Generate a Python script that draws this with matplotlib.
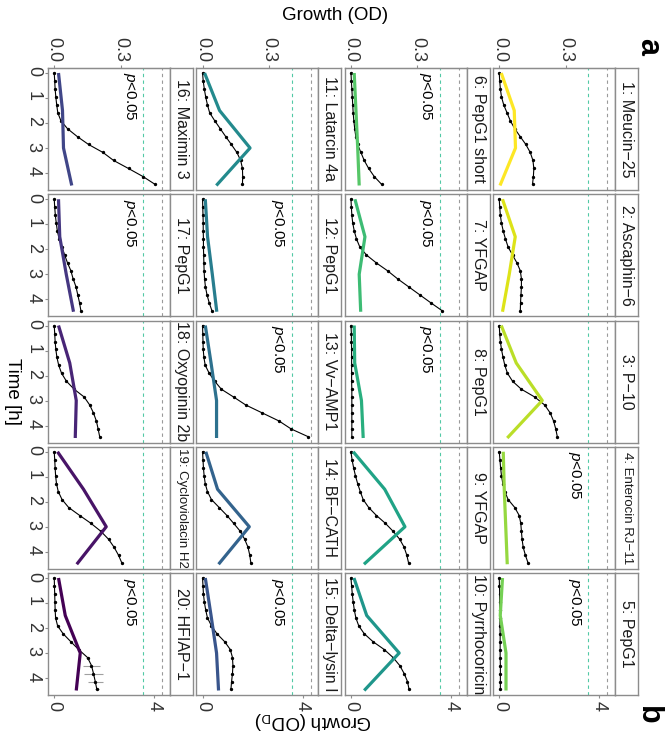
import numpy as np
import matplotlib
matplotlib.use("Agg")
import matplotlib.pyplot as plt

plt.rcParams["font.family"] = ["Liberation Sans", "DejaVu Sans"]
plt.rcParams["mathtext.fontset"] = "custom"
plt.rcParams["mathtext.rm"] = "Liberation Sans"
plt.rcParams["mathtext.it"] = "Liberation Sans:italic"

# --- Data ---

peptides = [
    "1: Meucin\u221225", "2: Ascaphin\u22126", "3: P\u221210", "4: Enterocin RJ\u221211", "5: PepG1",
    "6: PepG1 short", "7: YFGAP", "8: PepG1", "9: YFGAP", "10: Pyrrhocoricin",
    "11: Latarcin 4a", "12: PepG1", "13: Vv\u2212AMP1", "14: BF\u2212CATH", "15: Delta\u2212lysin I",
    "16: Maximin 3", "17: PepG1", "18: Oxyopinin 2b", "19: Cycloviolacin H2", "20: HFIAP\u22121",
]
significant = [4, 5, 6, 7, 8, 12, 13, 15, 16, 17, 20]
small_strip = [4, 19]

# plate reader time points (h) and measured growth (OD)
time_od = [0, 0.32, 0.64, 0.95, 1.27, 1.59, 1.91, 2.23, 2.55, 2.86, 3.18, 3.5, 3.82, 4.14, 4.45]
od_p01 = [0, 0.002, 0.005, 0.01, 0.02, 0.035, 0.05, 0.07, 0.095, 0.12, 0.14, 0.152, 0.156, 0.154, 0.15]
od_p02 = [0, 0.002, 0.005, 0.01, 0.018, 0.028, 0.04, 0.06, 0.08, 0.095, 0.1, 0.1, 0.098, 0.096, 0.095]
od_p03 = [0, 0.002, 0.005, 0.01, 0.017, 0.025, 0.037, 0.06, 0.1, 0.16, 0.205, 0.23, 0.245, 0.255, 0.262]
od_p04 = [0, 0.003, 0.006, 0.01, 0.016, 0.025, 0.04, 0.07, 0.09, 0.097, 0.1, 0.103, 0.108, 0.118, 0.13]
od_p05 = [0, 0.001, 0.002, 0.002, 0.003, 0.003, 0.003, 0.004, 0.004, 0.004, 0.004, 0.005, 0.005, 0.005, 0.005]
od_p06 = [0, 0.002, 0.004, 0.006, 0.008, 0.01, 0.013, 0.017, 0.022, 0.03, 0.045, 0.06, 0.08, 0.105, 0.138]
od_p07 = [0, 0.002, 0.004, 0.008, 0.015, 0.025, 0.04, 0.07, 0.115, 0.165, 0.21, 0.26, 0.31, 0.36, 0.41]
od_p08 = [0, 0.002, 0.002, 0.003, 0.003, 0.003, 0.003, 0.003, 0.004, 0.004, 0.004, 0.004, 0.004, 0.004, 0.004]
od_p09 = [0, 0.005, 0.012, 0.02, 0.03, 0.042, 0.055, 0.08, 0.115, 0.155, 0.19, 0.22, 0.24, 0.252, 0.26]
od_p10 = [0, 0.003, 0.006, 0.01, 0.015, 0.022, 0.035, 0.06, 0.1, 0.15, 0.19, 0.22, 0.24, 0.255, 0.262]
od_p11 = [0, 0.003, 0.008, 0.014, 0.022, 0.032, 0.055, 0.08, 0.105, 0.13, 0.155, 0.172, 0.18, 0.181, 0.18]
od_p12 = [0, 0.001, 0.002, 0.003, 0.003, 0.004, 0.004, 0.005, 0.006, 0.007, 0.009, 0.013, 0.02, 0.03, 0.042]
od_p13 = [0, 0.001, 0.002, 0.003, 0.006, 0.012, 0.03, 0.055, 0.085, 0.14, 0.195, 0.27, 0.345, 0.40, 0.477]
od_p14 = [0, 0.002, 0.004, 0.007, 0.012, 0.022, 0.04, 0.075, 0.11, 0.14, 0.17, 0.19, 0.205, 0.213, 0.218]
od_p15 = [0, 0.002, 0.004, 0.008, 0.014, 0.022, 0.04, 0.065, 0.1, 0.125, 0.135, 0.137, 0.135, 0.131, 0.128]
od_p16 = [0, 0.002, 0.004, 0.007, 0.011, 0.016, 0.03, 0.06, 0.105, 0.155, 0.22, 0.268, 0.335, 0.4, 0.454]
od_p17 = [0, 0.002, 0.005, 0.009, 0.014, 0.022, 0.035, 0.047, 0.06, 0.075, 0.085, 0.098, 0.106, 0.114, 0.12]
od_p18 = [0, 0.002, 0.004, 0.007, 0.012, 0.02, 0.033, 0.055, 0.09, 0.135, 0.16, 0.177, 0.19, 0.198, 0.205]
od_p19 = [0, 0.002, 0.004, 0.006, 0.01, 0.018, 0.035, 0.065, 0.115, 0.165, 0.21, 0.245, 0.27, 0.29, 0.305]
od_p20 = [0, 0.001, 0.002, 0.003, 0.004, 0.006, 0.015, 0.04, 0.075, 0.11, 0.15, 0.168, 0.177, 0.185, 0.192]
err_p20 = [0, 0, 0, 0, 0, 0, 0, 0, 0, 0.004, 0.008, 0.037, 0.045, 0.035, 0.01]

# sampled growth (OD_D) at the four fixed time points
time_odd = [0, 1.5, 3, 4.5]
odd_p01 = [0.08, 0.6, 0.65, 0.03]
odd_p02 = [0.13, 0.64, 0.4, 0.13]
odd_p03 = [0.08, 0.68, 1.72, 0.32]
odd_p04 = [0.16, 0.2, 0.26, 0.32]
odd_p05 = [0.13, 0.04, 0.27, 0.27]
odd_p06 = [0.13, 0.2, 0.27, 0.33]
odd_p07 = [0.16, 0.56, 0.33, 0.39]
odd_p08 = [0.13, 0.15, 0.42, 0.49]
odd_p09 = [0.09, 1.35, 2.16, 0.52]
odd_p10 = [0.12, 0.63, 1.93, 0.53]
odd_p11 = [0.08, 0.68, 1.9, 0.55]
odd_p12 = [0.11, 0.2, 0.39, 0.57]
odd_p13 = [0.11, 0.34, 0.56, 0.56]
odd_p14 = [0.13, 0.6, 1.87, 0.64]
odd_p15 = [0.11, 0.34, 0.56, 0.64]
odd_p16 = [0.17, 0.33, 0.37, 0.7]
odd_p17 = [0.17, 0.22, 0.48, 0.77]
odd_p18 = [0.17, 0.62, 0.88, 0.84]
odd_p19 = [0.13, 1.17, 2.08, 0.9]
odd_p20 = [0.17, 0.44, 1.04, 0.88]

# reference lines (OD_D units)
ref_teal = 3.56
ref_grey = 4.32

od_series = [od_p01, od_p02, od_p03, od_p04, od_p05, od_p06, od_p07, od_p08, od_p09, od_p10,
             od_p11, od_p12, od_p13, od_p14, od_p15, od_p16, od_p17, od_p18, od_p19, od_p20]
odd_series = [odd_p01, odd_p02, odd_p03, odd_p04, odd_p05, odd_p06, odd_p07, odd_p08, odd_p09, odd_p10,
              odd_p11, odd_p12, odd_p13, odd_p14, odd_p15, odd_p16, odd_p17, odd_p18, odd_p19, odd_p20]
err_series = {20: err_p20}

# --- Layout (pixels, figure is drawn turned on its side) ---

W, H = 665, 737
K = 2.66 / 0.3          # OD_D units per OD unit
col_left = [48, 196.3, 344.7, 493]
row_top = [68, 194.25, 320.5, 446.75, 573]
PW, PH, SW = 122, 122, 23
GRID = "#8c8c8c"
TXT = "#333333"
colors = plt.cm.viridis(np.linspace(1, 0, 20))


def box(left, top, w, h):
    return [left / W, 1 - (top + h) / H, w / W, h / H]


fig = plt.figure(figsize=(W / 100, H / 100), dpi=100)

for i, name in enumerate(peptides):
    n = i + 1
    c = 3 - i // 5
    r = i % 5

    ax = fig.add_axes(box(col_left[c], row_top[r], PW, PH))
    ax.set_xlim(-0.25, 4.63)
    ax.set_ylim(4.68, -0.2)

    ax.axvline(ref_teal, color="#52c9a5", lw=0.8, ls=(0, (3, 3)))
    ax.axvline(ref_grey, color="#9a9a9a", lw=0.8, ls=(0, (3, 3)))

    od = np.array(od_series[i]) * K
    if n in err_series:
        ax.errorbar(od, time_od, xerr=np.array(err_series[n]) * K, fmt="none",
                    ecolor="#a0a0a0", elinewidth=0.8, capsize=0)
    ax.plot(od, time_od, color="black", lw=0.8, marker="o", markersize=1.4)
    ax.plot(odd_series[i], time_odd, color=colors[i], lw=2.3, solid_capstyle="butt")

    if n in significant:
        ax.text(3.0, -0.02, "$p$<0.05", rotation=-90, ha="center", va="top",
                fontsize=11, color="black")

    for sp in ax.spines.values():
        sp.set_color(GRID)
        sp.set_linewidth(1.0)

    ax.set_yticks([0, 1, 2, 3, 4])
    ax.set_xticks([0, 4])
    ax.set_xticklabels(["0", "4"])
    ax.tick_params(length=2.5, width=0.8, color=GRID, labelcolor=TXT, labelsize=13,
                   labelrotation=-90, pad=2,
                   left=(c == 0), labelleft=(c == 0),
                   bottom=(r == 4), labelbottom=(r == 4))

    if r == 0:
        sec = ax.secondary_xaxis("top", functions=(lambda x: x / K, lambda x: x * K))
        sec.set_xticks([0, 0.3])
        sec.set_xticklabels(["0.0", "0.3"])
        sec.tick_params(length=2.5, width=0.8, color=GRID, labelcolor=TXT, labelsize=13,
                        labelrotation=-90, pad=2)
        sec.spines["top"].set_color(GRID)

    # facet strip on the right of each panel
    st = fig.add_axes(box(col_left[c] + PW, row_top[r], SW, PH))
    st.set_xticks([])
    st.set_yticks([])
    st.set_facecolor("white")
    for sp in st.spines.values():
        sp.set_color(GRID)
        sp.set_linewidth(1.0)
    st.text(0.5, 0.5, name, rotation=-90, ha="center", va="center",
            fontsize=9.5 if n in small_strip else 11.5, color="#1a1a1a",
            transform=st.transAxes, clip_on=True)

# axis titles and panel letters
fig.text(335 / W, 1 - 16 / H, "Growth (OD)", ha="center", va="center", fontsize=13.5)
fig.text(313 / W, 1 - 721 / H, "Growth (OD$_\\mathregular{D}$)", rotation=180,
         ha="center", va="center", fontsize=13.5)
fig.text(12 / W, 1 - 392 / H, "Time [h]", rotation=-90, ha="center", va="center", fontsize=13.5)
fig.text(648 / W, 1 - 46 / H, "a", rotation=-90, ha="center", va="center",
         fontsize=22, fontweight="bold")
fig.text(648 / W, 1 - 715 / H, "b", rotation=-90, ha="center", va="center",
         fontsize=22, fontweight="bold")

fig.savefig("out.png", dpi=100)
